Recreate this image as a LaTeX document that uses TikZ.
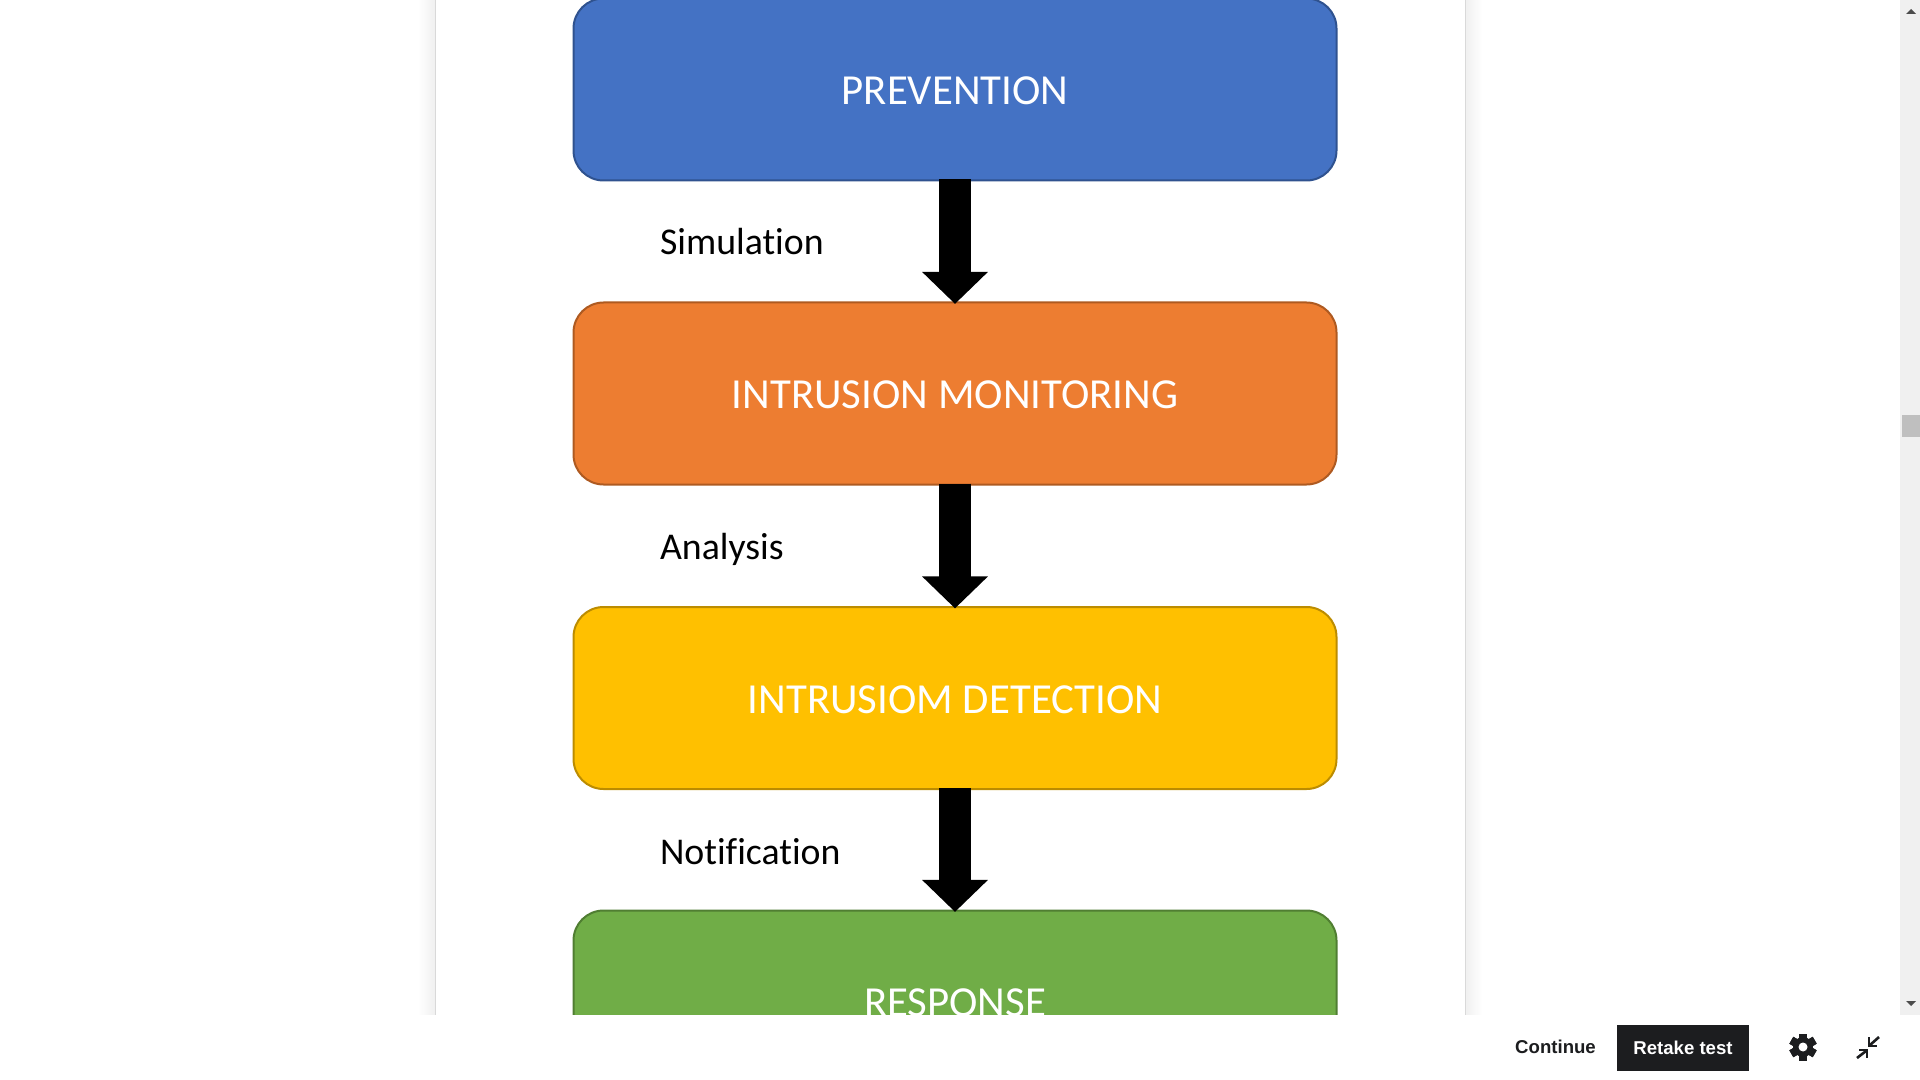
\documentclass[tikz,border=0pt]{standalone}
\usepackage{fontspec}
\setmainfont[Ligatures=CommonOff]{Carlito}
\newfontfamily\uifont{Liberation Sans}
\usetikzlibrary{arrows.meta}

\definecolor{stepblue}{HTML}{4472C4}
\definecolor{stepblueline}{HTML}{2F528F}
\definecolor{steporange}{HTML}{ED7D31}
\definecolor{steporangeline}{HTML}{AE5A21}
\definecolor{stepyellow}{HTML}{FFC000}
\definecolor{stepyellowline}{HTML}{BC8C00}
\definecolor{stepgreen}{HTML}{70AD47}
\definecolor{stepgreenline}{HTML}{507E32}
\definecolor{uidark}{HTML}{1C1D1F}

\tikzset{stepbox/.style = {rounded corners=15pt, line width=1pt, text=white,
                           minimum width=381.5pt, minimum height=91pt,
                           text height=15pt, text depth=0pt,
                           font=\fontsize{21.4}{25}\selectfont},
         flowarrow/.style = {line width=16pt, shorten <=-1pt, shorten >=-1.2pt,
                             -{Triangle[width=32pt, length=16pt]}},
         steplabel/.style = {anchor=base west, font=\fontsize{18.9}{23}\selectfont},
         uitext/.style = {font=\uifont\bfseries\fontsize{9.3}{11}\selectfont}
        }

\begin{document}
\begin{tikzpicture}[x=0.5pt, y=-0.5pt]
  \clip (0, 0) rectangle (1920, 1080);
  % page and its shadow
  \shade[left color=white, right color=black!6] (418, 0) rectangle (435, 1015);
  \shade[left color=black!6, right color=white] (1465, 0) rectangle (1482, 1015);
  \draw[black!15, line width=0.5pt] (435, 0) -- (435, 1015);
  \draw[black!15, line width=0.5pt] (1465, 0) -- (1465, 1015);
  % boxes
  \foreach \name/\y/\col/\edge/\txt in {prevention/89.5/stepblue/stepblueline/PREVENTION,
      monitoring/393.5/steporange/steporangeline/INTRUSION MONITORING,
      detection/698/stepyellow/stepyellowline/INTRUSIOM DETECTION,
      response/1001.5/stepgreen/stepgreenline/RESPONSE}
      {\node[stepbox, fill=\col, draw=\edge] (\name) at (955, \y) {\txt};};
  % arrows
  \foreach \a/\b in {prevention/monitoring, monitoring/detection, detection/response}
      {\draw[flowarrow] (\a) -- (\b);};
  \foreach \name/\y/\txt in {simulation/254.5/Simulation, analysis/559/Analysis, notification/864/Notification}
      {\node[steplabel] (\name) at (653, \y) {\txt};};
  % scrollbar
  \fill[black!6] (1900, 0) rectangle (1920, 1015);
  \fill[black!25] (1902, 415) rectangle (1920, 437);
  \fill[black!70] (1906, 14) -- (1916, 14) -- (1911, 9) -- cycle;
  \fill[black!70] (1906, 1001) -- (1916, 1001) -- (1911, 1006) -- cycle;
  % bottom bar
  \fill[white] (0, 1015) rectangle (1920, 1080);
  \node[uitext, text=uidark] (continue) at (1555.5, 1047) {Continue};
  \node[uitext, fill=uidark, text=white, minimum width=66pt, minimum height=23pt, inner sep=0pt] (retake) at (1683, 1048) {Retake test};
  % gear
  \coordinate (gear) at (1803, 1047);
  \foreach \a in {0, 60, ..., 300}
      {\fill[uidark, rotate around={\a:(gear)}] (1799, 1033.5) rectangle (1807, 1060.5);};
  \fill[uidark] (gear) circle (10);
  \fill[white] (gear) circle (4.5);
  % compress icon
  \draw[uidark, line width=1.3pt] (1857, 1058) -- (1866, 1051);
  \draw[uidark, line width=1.3pt] (1859, 1050) -- (1867, 1050) -- (1867, 1058);
  \draw[uidark, line width=1.3pt] (1879, 1037) -- (1870, 1045);
  \draw[uidark, line width=1.3pt] (1869, 1037) -- (1869, 1046) -- (1877, 1046);
\end{tikzpicture}
\end{document}
